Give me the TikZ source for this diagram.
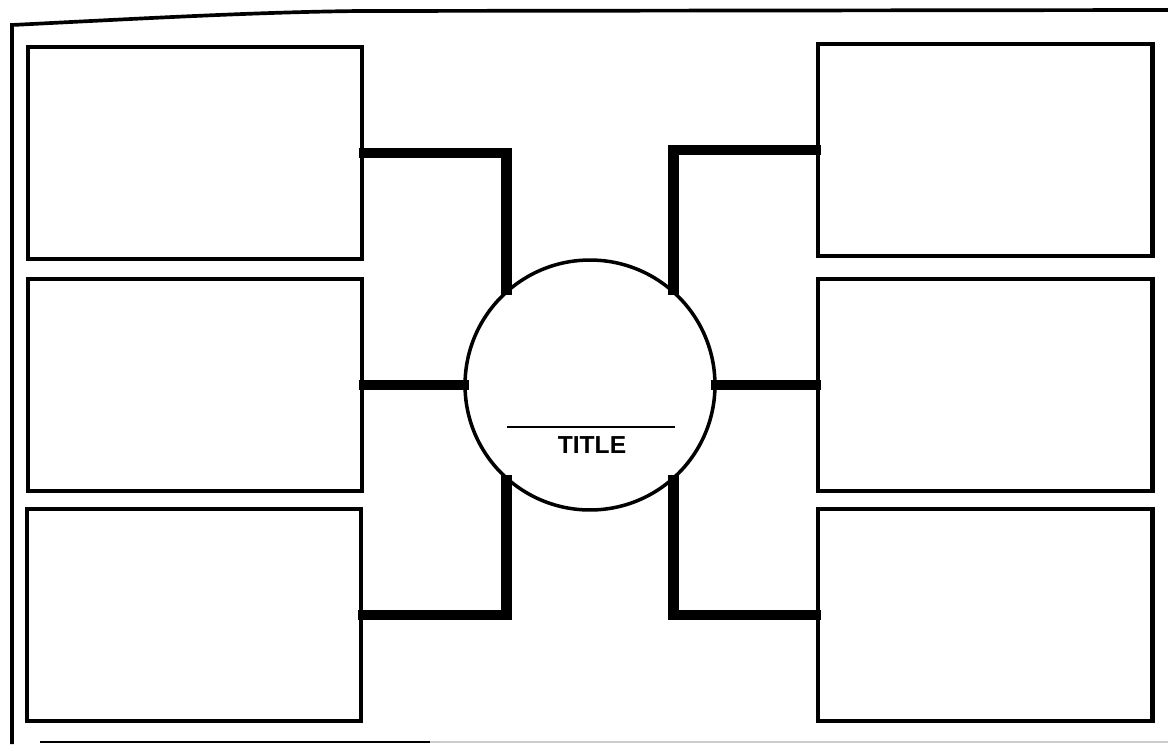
\documentclass[tikz,border=0pt]{standalone}
\usepackage{fontspec}
\setsansfont{Liberation Sans}
\usetikzlibrary{positioning}

\begin{document}
\begin{tikzpicture}[
    x=0.02cm, y=-0.02cm,
    box/.style={draw, line width=2.3pt, minimum width=6.7cm, minimum height=4.25cm, inner sep=0pt},
    hub/.style={draw, circle, line width=2pt, minimum size=5cm, inner sep=0pt},
    link/.style={line width=6.2pt, line cap=rect},
    frame/.style={line width=2.1pt},
    every node/.append style={font=\sffamily\bfseries}
  ]
  \useasboundingbox (0,0) rectangle (1168,744);

  % outer sheet edge
  \draw[frame] (12,744) -- (12,25) .. controls (150,18) and (260,12) .. (360,11) -- (1168,10);
  \draw[line width=1.5pt] (40,742) -- (430,742);
  \draw[line width=1.5pt, gray!40] (430,742) -- (1168,742);

  \node[hub] (hub) at (590,385) {};
  \draw[line width=1.2pt] (507,427) -- (675,427);
  \node[font=\fontsize{14}{16}\sffamily\bfseries] (title) at (592,445) {TITLE};

  \node[box] (l1) at (195,153) {};
  \node[box] (l2) at (195,385) {};
  \node[box] (l3) at (194,615) {};
  \node[box] (r1) at (985,150) {};
  \node[box] (r2) at (985,385) {};
  \node[box] (r3) at (985,615) {};

  \draw[link] (l1.east) -| (hub.131);
  \draw[link] (l2.east) -- (hub.west);
  \draw[link] (l3.east) -| (hub.229);
  \draw[link] (r1.west) -| (hub.49);
  \draw[link] (r2.west) -- (hub.east);
  \draw[link] (r3.west) -| (hub.311);
\end{tikzpicture}
\end{document}
